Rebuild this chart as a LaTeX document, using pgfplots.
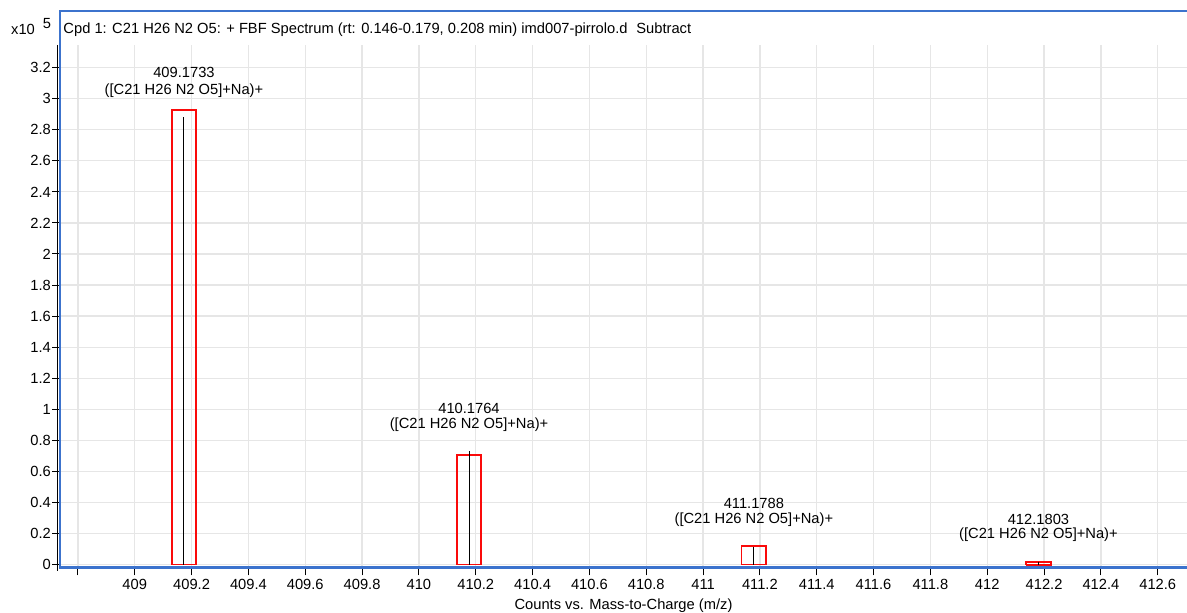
\documentclass[border=0pt]{standalone}
\usepackage{fontspec}
\setmainfont{Liberation Sans}
\usepackage{pgfplots}
\pgfplotsset{compat=1.18}
\definecolor{frameblue}{RGB}{60,115,205}
\definecolor{gridgray}{RGB}{230,230,230}
\definecolor{boxred}{RGB}{250,10,10}
\begin{document}
\begin{tikzpicture}[font=\fontsize{14.7bp}{17bp}\selectfont]
\useasboundingbox (-60bp,-45.7bp) rectangle (1127bp,567.3bp);
\begin{axis}[
  at={(0,0)}, anchor=south west,
  scale only axis, width=1127bp, height=522.3bp,
  xmin=408.737, xmax=412.703, ymin=-0.018, ymax=3.346,
  axis line style={draw=none},
  tick align=outside,
  major tick length=8bp,
  tick style={black, line width=1bp},
  xtick pos=left, ytick pos=left,
  xtick={408.8,409,409.2,409.4,409.6,409.8,410,410.2,410.4,410.6,410.8,411,411.2,411.4,411.6,411.8,412,412.2,412.4,412.6},
  xticklabels={,409,409.2,409.4,409.6,409.8,410,410.2,410.4,410.6,410.8,411,411.2,411.4,411.6,411.8,412,412.2,412.4,412.6},
  ytick={0,0.2,0.4,0.6,0.8,1,1.2,1.4,1.6,1.8,2,2.2,2.4,2.6,2.8,3,3.2},
  yticklabels={0,0.2,0.4,0.6,0.8,1,1.2,1.4,1.6,1.8,2,2.2,2.4,2.6,2.8,3,3.2},
  xticklabel style={anchor=base, yshift=-14bp},
  yticklabel style={anchor=east, inner sep=0pt, xshift=-1bp},
  grid=major,
  major grid style={gridgray, line width=1.2bp},
  clip=false,
]
% isotope pattern boxes (theoretical)
\addplot[boxred, line width=1.5bp] coordinates {(409.1303,0) (409.1303,2.928) (409.2163,2.928) (409.2163,0) (409.1303,0)};
\addplot[boxred, line width=1.5bp] coordinates {(410.1334,0) (410.1334,0.705) (410.2194,0.705) (410.2194,0) (410.1334,0)};
\addplot[boxred, line width=1.5bp] coordinates {(411.1358,0) (411.1358,0.119) (411.2218,0.119) (411.2218,0) (411.1358,0)};
\addplot[boxred, line width=2bp] coordinates {(412.1373,0) (412.1373,0.013) (412.2233,0.013) (412.2233,0) (412.1373,0)};
% measured peaks
\addplot[ycomb, black, line width=1bp, mark=none] coordinates {(409.1733,2.882) (410.1764,0.731) (411.1788,0.115) (412.1803,0.016)};
% labels
\node[anchor=center] at (axis cs:409.1733,3.17) {409.1733};
\node[anchor=center] at (axis cs:409.1733,3.05) {([C21 H26 N2 O5]+Na)+};
\node[anchor=center] at (axis cs:410.1764,1.008) {410.1764};
\node[anchor=center] at (axis cs:410.1764,0.898) {([C21 H26 N2 O5]+Na)+};
\node[anchor=center] at (axis cs:411.1788,0.396) {411.1788};
\node[anchor=center] at (axis cs:411.1788,0.287) {([C21 H26 N2 O5]+Na)+};
\node[anchor=center] at (axis cs:412.1803,0.293) {412.1803};
\node[anchor=center] at (axis cs:412.1803,0.190) {([C21 H26 N2 O5]+Na)+};
\node[anchor=base] at (rel axis cs:0.5,0) [yshift=-41.7bp] {Counts vs. Mass-to-Charge (m/z)};
\end{axis}
% frame
\draw[frameblue, line width=2.7bp] (1200bp,556.3bp) -- (0,556.3bp) -- (0,0) -- (1200bp,0);
\draw[black, line width=1.2bp] (-2.7bp,522.3bp) -- (-2.7bp,-4bp);
\node[anchor=base west, inner sep=0pt] at (3.3bp,534bp) {Cpd 1: C21 H26 N2 O5: + FBF Spectrum (rt: 0.146-0.179, 0.208 min) imd007-pirrolo.d\hspace{0.6em}Subtract};
\node[anchor=base west, inner sep=0pt] at (-49bp,532.3bp) {x10};
\node[anchor=base west, inner sep=0pt] at (-17.3bp,539bp) {5};
\end{tikzpicture}
\end{document}
